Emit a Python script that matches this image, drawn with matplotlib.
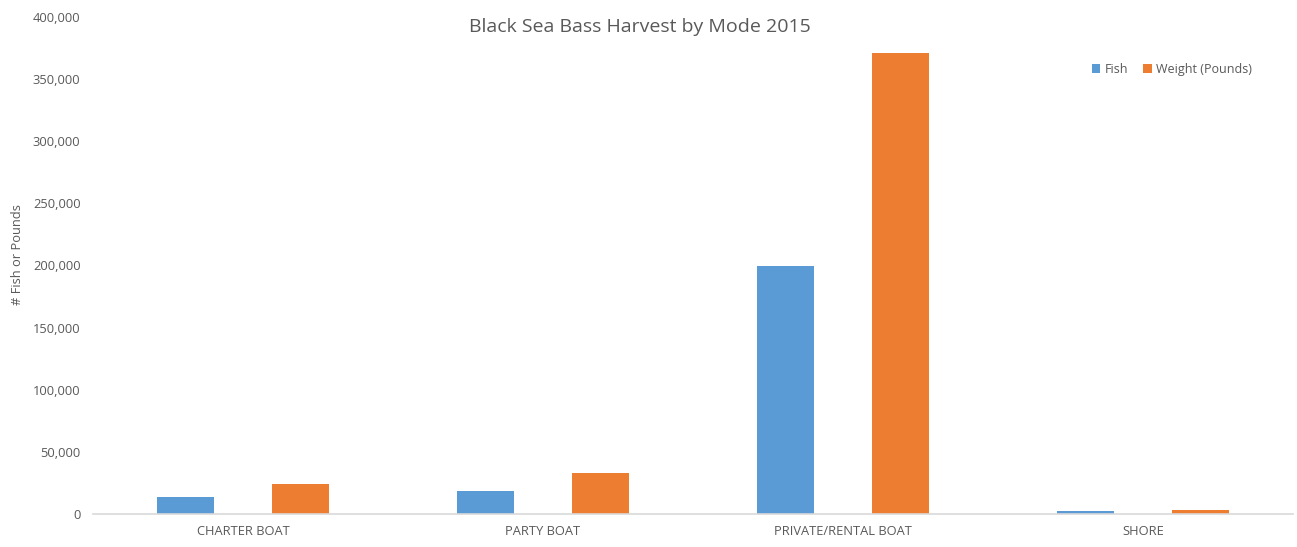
import matplotlib.pyplot as plt
from matplotlib.ticker import FuncFormatter
import numpy as np

modes = ["CHARTER BOAT", "PARTY BOAT", "PRIVATE/RENTAL BOAT", "SHORE"]
fish = [13500, 18300, 199600, 2200]
weight = [23900, 33200, 371000, 3500]
yticks = [0, 50000, 100000, 150000, 200000, 250000, 300000, 350000, 400000]

BLUE = "#5b9bd5"
ORANGE = "#ed7d31"
TEXT = "#595959"

plt.rcParams['font.family'] = ['Open Sans', 'DejaVu Sans']

fig = plt.figure(figsize=(12.97, 5.47), dpi=100)
ax = fig.add_axes([93 / 1297, 1 - 514 / 547, 1200 / 1297, 497 / 547])

x = np.arange(len(modes))
width = 0.19
ax.bar(x - 0.1925, fish, width, color=BLUE, label="Fish")
ax.bar(x + 0.1925, weight, width, color=ORANGE, label="Weight (Pounds)")

ax.set_xlim(-0.5, len(modes) - 0.5)
ax.set_ylim(0, 400000)
ax.set_yticks(yticks)
ax.yaxis.set_major_formatter(FuncFormatter(lambda v, p: f"{int(v):,}"))
ax.set_xticks(x)
ax.set_xticklabels(modes)
ax.tick_params(axis='both', length=0, colors=TEXT, labelsize=9.3)
ax.tick_params(axis='y', pad=9)
ax.tick_params(axis='x', pad=8)

for s in ['top', 'right', 'left']:
    ax.spines[s].set_visible(False)
ax.spines['bottom'].set_color("#d9d9d9")
ax.spines['bottom'].set_linewidth(1.2)

fig.text(18 / 1297, 1 - 255 / 547, "# Fish or Pounds", rotation=90,
         ha='center', va='center', color=TEXT, fontsize=9.3)
fig.text(640 / 1297, 1 - 27 / 547, "Black Sea Bass Harvest by Mode 2015",
         ha='center', va='center', color=TEXT, fontsize=14)

leg = ax.legend(loc='center', bbox_to_anchor=(1172 / 1297, 1 - 69 / 547),
                bbox_transform=fig.transFigure, ncol=2, frameon=False,
                fontsize=9, handlelength=0.7, handleheight=0.7,
                handletextpad=0.35, columnspacing=1.2)
for t in leg.get_texts():
    t.set_color(TEXT)

fig.savefig("out.png", dpi=100, facecolor="white")
